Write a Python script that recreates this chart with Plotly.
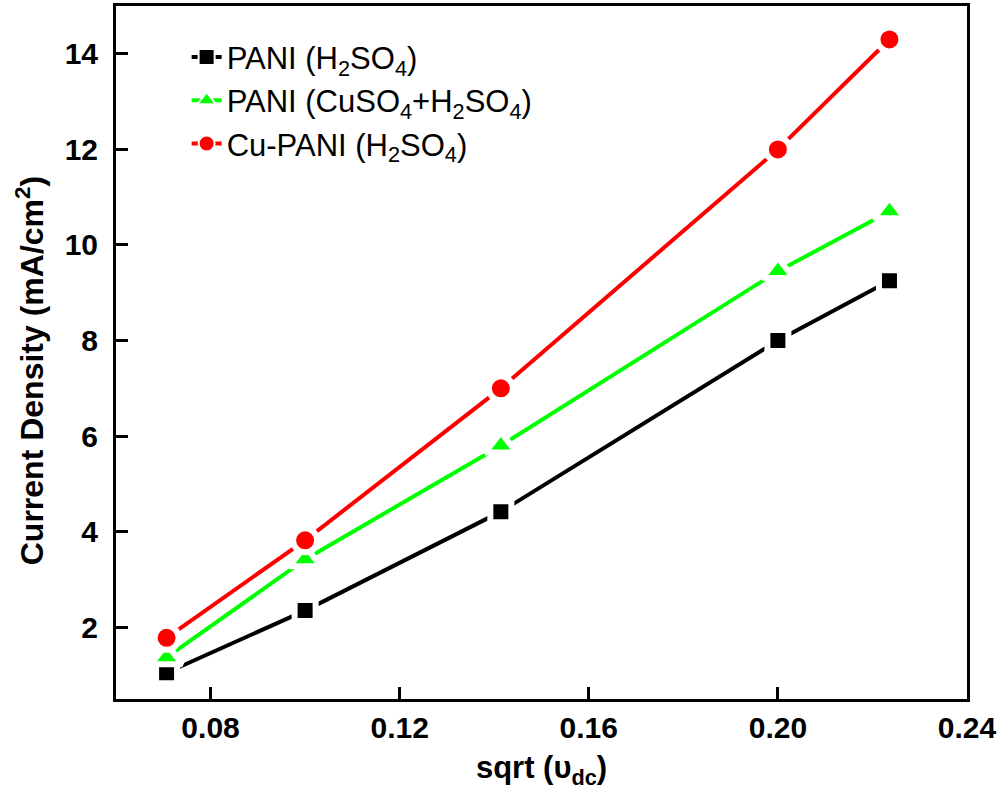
import plotly.graph_objects as go

x_vals = [0.0707, 0.1000, 0.1414, 0.2000, 0.2236]
pani_h2so4 = [1.05, 2.35, 4.42, 8.00, 9.25]
pani_cuso4_h2so4 = [1.37, 3.42, 5.80, 9.45, 10.70]
cu_pani_h2so4 = [1.78, 3.82, 7.00, 12.00, 14.30]

names = ["PANI (H<sub>2</sub>SO<sub>4</sub>)",
         "PANI (CuSO<sub>4</sub>+H<sub>2</sub>SO<sub>4</sub>)",
         "Cu-PANI (H<sub>2</sub>SO<sub>4</sub>)"]
colors = ["#000000", "#00ff00", "#ff0000"]
symbols = ["square", "triangle-up", "circle"]
sizes = [21, 27, 24]
series = [pani_h2so4, pani_cuso4_h2so4, cu_pani_h2so4]

x_ticks = [0.08, 0.12, 0.16, 0.20, 0.24]
x_ticklabels = ["0.08", "0.12", "0.16", "0.20", "0.24"]
y_ticks = [2, 4, 6, 8, 10, 12, 14]

x_title = "sqrt (\u03c5<sub>dc</sub>)"
y_title = "Current Density (mA/cm<sup>2</sup>)"

fig = go.Figure()
for name, ys, c, s, sz in zip(names, series, colors, symbols, sizes):
    fig.add_trace(go.Scatter(
        x=x_vals, y=ys, name=name, mode="lines+markers", showlegend=False,
        line=dict(color=c, width=4),
        marker=dict(symbol=s, size=sz, color=c, line=dict(color="white", width=6)),
    ))
# legend entries (no data): same style with a thinner gap so the symbol stays visible
for name, c, s in zip(names, colors, symbols):
    fig.add_trace(go.Scatter(
        x=[None], y=[None], name=name, mode="lines+markers", showlegend=True,
        line=dict(color=c, width=4),
        marker=dict(symbol=s, size=16, color=c, line=dict(color="white", width=2)),
    ))

font_fam = "Liberation Sans, Arial, sans-serif"
fig.update_layout(
    width=1003, height=801,
    paper_bgcolor="white", plot_bgcolor="white",
    margin=dict(l=116, r=36, t=6, b=102),
    showlegend=True,
    legend=dict(x=0.083, y=0.965, xanchor="left", yanchor="top",
                bgcolor="rgba(0,0,0,0)", font=dict(family=font_fam, size=31, color="black"),
                tracegroupgap=0, itemsizing="trace"),
    xaxis=dict(range=[0.06, 0.24], tickmode="array", tickvals=x_ticks, ticktext=x_ticklabels,
               ticks="inside", ticklen=12, tickwidth=3, tickcolor="black",
               showline=True, linewidth=3, linecolor="black", mirror=True,
               showgrid=False, zeroline=False, automargin=False,
               tickfont=dict(family=font_fam, size=30, color="black", weight="bold"),
               title=dict(text=x_title, standoff=14,
                          font=dict(family=font_fam, size=31, color="black", weight="bold"))),
    yaxis=dict(range=[0.5, 15.0], tickmode="array", tickvals=y_ticks,
               ticks="inside", ticklen=12, tickwidth=3, tickcolor="black",
               showline=True, linewidth=3, linecolor="black", mirror=True,
               showgrid=False, zeroline=False, ticklabelstandoff=9, automargin=False,
               tickfont=dict(family=font_fam, size=30, color="black", weight="bold")),
    annotations=[dict(text=y_title, textangle=-90, xref="paper", yref="paper",
                      x=-0.101, y=0.473, xanchor="center", yanchor="middle", showarrow=False,
                      font=dict(family=font_fam, size=32, color="black", weight="bold"))],
)

fig.write_html("out.html", config={"displayModeBar": False},
               post_script="document.body.style.margin='0';")
